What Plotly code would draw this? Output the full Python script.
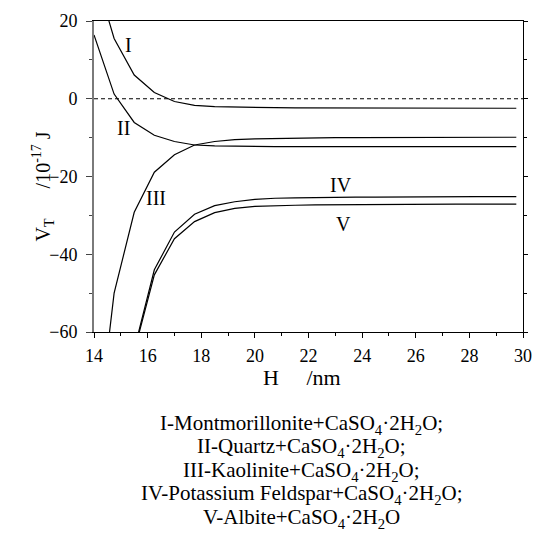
import plotly.graph_objects as go

# ---- data ----
H_nm = [14, 14.75, 15.5, 16.25, 17, 17.75, 18.5, 19.25, 20, 20.75, 21.5,
        22.25, 23, 23.75, 24.5, 25.25, 26, 26.75, 27.5, 28.25, 29, 29.75]
V_I = [33, 15.5, 6.1, 1.6, -0.7, -1.7, -2.0, -2.15, -2.25, -2.3, -2.35,
       -2.35, -2.4, -2.4, -2.4, -2.45, -2.45, -2.45, -2.45, -2.45, -2.45, -2.45]
V_II = [16.4, 1.2, -6.1, -9.4, -11.0, -11.9, -12.1, -12.2, -12.25, -12.3, -12.3,
        -12.3, -12.3, -12.3, -12.3, -12.3, -12.3, -12.3, -12.3, -12.3, -12.3, -12.3]
V_III = [-94, -50, -29.2, -18.9, -14.4, -11.9, -11.0, -10.5, -10.3, -10.2, -10.1,
         -10.05, -10.0, -10.0, -10.0, -9.95, -9.95, -9.9, -9.9, -9.9, -9.9, -9.9]
V_IV = [None, None, -64.5, -44.0, -34.3, -29.7, -27.5, -26.5, -25.9, -25.6, -25.5,
        -25.4, -25.35, -25.3, -25.3, -25.25, -25.25, -25.2, -25.2, -25.2, -25.2, -25.2]
V_V = [None, None, -65.0, -45.3, -36.0, -31.6, -29.3, -28.2, -27.7, -27.5, -27.4,
       -27.3, -27.25, -27.2, -27.2, -27.15, -27.15, -27.1, -27.1, -27.1, -27.1, -27.1]

series = [V_I, V_II, V_III, V_IV, V_V]

curve_labels = ["I", "II", "III", "IV", "V"]
label_x = [15.28, 15.11, 16.3, 23.2, 23.3]
label_y = [13.8, -7.4, -25.5, -22.3, -32.3]

x_ticks = [14, 16, 18, 20, 22, 24, 26, 28, 30]
y_ticks = [20, 0, -20, -40, -60]

legend_lines = [
    "I-Montmorillonite+CaSO<sub>4</sub>·2H<sub>2</sub>O;",
    "II-Quartz+CaSO<sub>4</sub>·2H<sub>2</sub>O;",
    "III-Kaolinite+CaSO<sub>4</sub>·2H<sub>2</sub>O;",
    "IV-Potassium Feldspar+CaSO<sub>4</sub>·2H<sub>2</sub>O;",
    "V-Albite+CaSO<sub>4</sub>·2H<sub>2</sub>O",
]

FONT = "Liberation Serif"
W, Hh = 541, 539
L, R, T, B = 94, 9, 21, 207
PW = W - L - R
PH = Hh - T - B


def px_to_paper_x(px):
    return (px - L) / PW


def px_to_paper_y(py):
    return (Hh - B - py) / PH


fig = go.Figure()
for ys in series:
    fig.add_trace(go.Scatter(x=H_nm, y=ys, mode="lines",
                             line=dict(color="black", width=1.2),
                             showlegend=False, hoverinfo="skip"))

# invisible trace so the right-hand tick axis is drawn
fig.add_trace(go.Scatter(x=[14, 30], y=[20, -60], yaxis="y2", mode="lines",
                         line=dict(width=0), showlegend=False, hoverinfo="skip",
                         opacity=0))

fig.add_hline(y=0, line=dict(color="black", width=1, dash="4px,3px"))

for t, lx, ly in zip(curve_labels, label_x, label_y):
    fig.add_annotation(x=lx, y=ly, text=t, showarrow=False,
                       font=dict(family=FONT, size=20, color="black"))

# axis titles
fig.add_annotation(xref="paper", yref="paper",
                   x=px_to_paper_x(306), y=px_to_paper_y(392),
                   text="H&nbsp;&nbsp;&nbsp;&nbsp;&nbsp;/nm", showarrow=False,
                   font=dict(family=FONT, size=22, color="black"))
fig.add_annotation(xref="paper", yref="paper",
                   x=px_to_paper_x(26), y=px_to_paper_y(186), textangle=-90,
                   text="V<sub>T</sub>&nbsp;&nbsp;&nbsp;&nbsp;&nbsp;&nbsp;/10<sup>-17</sup> J",
                   showarrow=False,
                   font=dict(family=FONT, size=20, color="black"))

legend_py = [424, 447.5, 471, 494.5, 518]
for line, py in zip(legend_lines, legend_py):
    fig.add_annotation(xref="paper", yref="paper",
                       x=px_to_paper_x(306), y=px_to_paper_y(py),
                       text=line, showarrow=False, yanchor="middle",
                       height=23, valign="middle",
                       font=dict(family=FONT, size=21, color="black"))

fig.update_layout(
    width=W, height=Hh,
    margin=dict(l=L, r=R, t=T, b=B, pad=0),
    paper_bgcolor="white", plot_bgcolor="white",
    font=dict(family=FONT, size=18, color="black"),
    xaxis=dict(range=[14, 30], tickvals=x_ticks, showgrid=False, zeroline=False,
               showline=True, linecolor="black", linewidth=1, mirror=True,
               ticks="outside", ticklen=5, tickcolor="black", tickwidth=1,
               ticklabelstandoff=2,
               minor=dict(dtick=1, ticks="outside", ticklen=3, tickcolor="black"),
               tickfont=dict(family=FONT, size=18, color="black")),
    yaxis=dict(range=[-60, 20], tickvals=y_ticks, showgrid=False, zeroline=False,
               showline=True, linecolor="#7a7a7a", linewidth=2,
               ticks="outside", ticklen=6, tickcolor="#444", tickwidth=1,
               ticklabelstandoff=5,
               minor=dict(dtick=10, ticks="outside", ticklen=3, tickcolor="#444"),
               tickfont=dict(family=FONT, size=18, color="black")),
    yaxis2=dict(range=[-60, 20], overlaying="y", side="right", showgrid=False,
                zeroline=False, showline=True, linecolor="black", linewidth=1,
                ticks="outside", ticklen=4, tickcolor="black", tickvals=y_ticks,
                showticklabels=False,
                minor=dict(dtick=10, ticks="outside", ticklen=3, tickcolor="black")),
)

fig.write_html("out.html")
